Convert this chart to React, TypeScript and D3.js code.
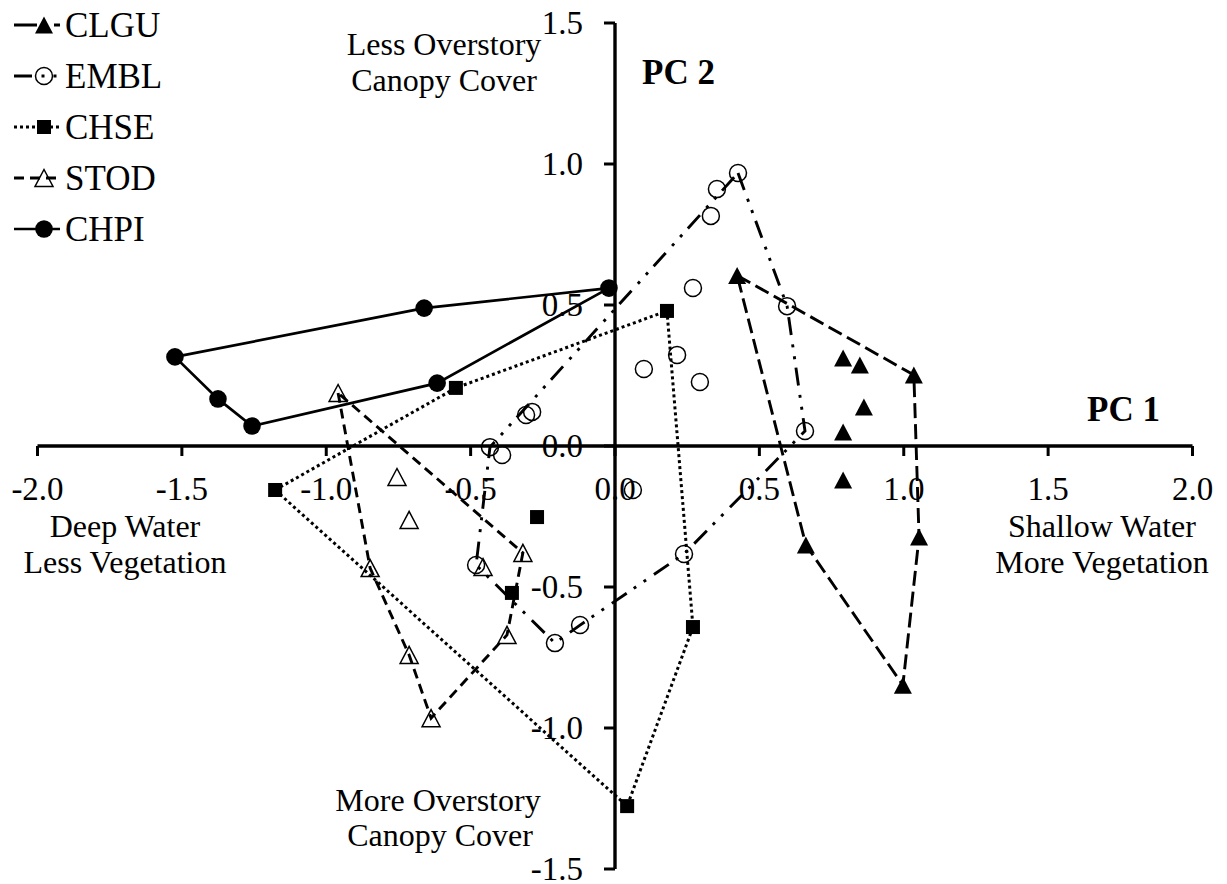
import React from "react";
import * as d3 from "d3";

type Pt = [number, number];

// Axis tick values
const xTickValues = [-2.0, -1.5, -1.0, -0.5, 0.0, 0.5, 1.0, 1.5, 2.0];
const yTickValues = [-1.5, -1.0, -0.5, 0.0, 0.5, 1.0, 1.5];

// Site scores per species: outline vertices (in drawing order) and the remaining sites
const clguHull: Pt[] = [[0.423, 0.605], [1.035, 0.252], [1.053, -0.323], [0.997, -0.848], [0.661, -0.351]];
const clguInner: Pt[] = [[0.790, 0.312], [0.848, 0.287], [0.862, 0.138], [0.790, 0.050], [0.790, -0.121]];

const emblHull: Pt[] = [[0.426, 0.968], [0.596, 0.496], [0.658, 0.053], [0.239, -0.383], [-0.121, -0.635], [-0.208, -0.699], [-0.481, -0.422], [-0.433, -0.004]];
const emblInner: Pt[] = [[0.353, 0.911], [0.332, 0.816], [0.270, 0.560], [0.215, 0.323], [0.100, 0.273], [0.294, 0.227], [-0.308, 0.110], [-0.287, 0.121], [-0.391, -0.032], [0.062, -0.156]];

const chseHull: Pt[] = [[-1.177, -0.156], [-0.551, 0.206], [0.180, 0.479], [0.270, -0.642], [0.042, -1.277]];
const chseInner: Pt[] = [[-0.270, -0.252], [-0.357, -0.521]];

const stodHull: Pt[] = [[-0.959, 0.188], [-0.848, -0.433], [-0.713, -0.741], [-0.637, -0.965], [-0.374, -0.670], [-0.319, -0.379]];
const stodInner: Pt[] = [[-0.755, -0.110], [-0.713, -0.262], [-0.457, -0.429]];

const chpiHull: Pt[] = [[-1.524, 0.316], [-0.661, 0.489], [-0.021, 0.560], [-0.616, 0.223], [-1.257, 0.071], [-1.375, 0.167]];
const chpiInner: Pt[] = [];

type MarkerKind = "triFilled" | "circleOpen" | "square" | "triOpen" | "circleFilled";

interface Species {
  name: string;
  hull: Pt[];
  inner: Pt[];
  marker: MarkerKind;
  dash: string;
  legendDash: string;
  width: number;
}

const species: Species[] = [
  { name: "CLGU", hull: clguHull, inner: clguInner, marker: "triFilled", dash: "15,6", legendDash: "23,17,10", width: 2.9 },
  { name: "EMBL", hull: emblHull, inner: emblInner, marker: "circleOpen", dash: "18,9.5,3,9,3,8.5", legendDash: "18,9.5,3,9,3,8.5", width: 2.9 },
  { name: "CHSE", hull: chseHull, inner: chseInner, marker: "square", dash: "3,3", legendDash: "3,3", width: 3 },
  { name: "STOD", hull: stodHull, inner: stodInner, marker: "triOpen", dash: "10,6", legendDash: "10,6", width: 2.9 },
  { name: "CHPI", hull: chpiHull, inner: chpiInner, marker: "circleFilled", dash: "", legendDash: "", width: 2.7 },
];

const W = 1227;
const H = 884;
const FONT = "'Liberation Serif', 'Times New Roman', serif";

const x = d3.scaleLinear().domain([-2, 2]).range([37.5, 1192.5]);
const y = d3.scaleLinear().domain([-1.5, 1.5]).range([869, 23]);

const fmt = d3
  .formatLocale({ decimal: ".", thousands: ",", grouping: [3], currency: ["", ""], minus: "-" })
  .format(".1f");

function Marker({ kind, cx, cy }: { kind: MarkerKind; cx: number; cy: number }) {
  switch (kind) {
    case "triFilled": {
      const w = 18, h = 17;
      return <path d={`M${cx},${cy - h / 2}L${cx + w / 2},${cy + h / 2}L${cx - w / 2},${cy + h / 2}Z`} fill="#000" />;
    }
    case "triOpen": {
      const w = 18, h = 17;
      return (
        <path
          d={`M${cx},${cy - h / 2}L${cx + w / 2},${cy + h / 2}L${cx - w / 2},${cy + h / 2}Z`}
          fill="none"
          stroke="#000"
          strokeWidth={1.5}
        />
      );
    }
    case "circleOpen":
      return <circle cx={cx} cy={cy} r={8.5} fill="none" stroke="#000" strokeWidth={1.5} />;
    case "circleFilled":
      return <circle cx={cx} cy={cy} r={8.8} fill="#000" />;
    case "square":
      return <rect x={cx - 7} y={cy - 7} width={14} height={14} fill="#000" />;
  }
}

export default function App() {
  const line = d3
    .line<Pt>()
    .x((d) => x(d[0]))
    .y((d) => y(d[1]))
    .curve(d3.curveLinearClosed);

  const x0 = x(0);
  const y0 = y(0);

  const legendTop = 25;
  const legendStep = 51;

  return (
    <svg
      width={W}
      height={H}
      viewBox={`0 0 ${W} ${H}`}
      style={{ position: "absolute", left: 0, top: 0, background: "#fff" }}
      fontFamily={FONT}
    >
      <rect x={0} y={0} width={W} height={H} fill="#fff" />

      {/* Axes crossing at the origin */}
      <g stroke="#000">
        <line x1={x(-2)} x2={x(2)} y1={y0} y2={y0} strokeWidth={3.4} />
        <line x1={x0} x2={x0} y1={y(1.5)} y2={y(-1.5)} strokeWidth={3.4} />
        {xTickValues.map((v) => (
          <line key={`xt${v}`} x1={x(v)} x2={x(v)} y1={y0} y2={y0 + 10} strokeWidth={3} />
        ))}
        {yTickValues.map((v) => (
          <line key={`yt${v}`} x1={x0 - 11} x2={x0} y1={y(v)} y2={y(v)} strokeWidth={3} />
        ))}
      </g>

      {/* Tick labels */}
      <g fontSize={33} fill="#000">
        {xTickValues.map((v) => (
          <text key={`xl${v}`} x={x(v)} y={500} textAnchor="middle">
            {fmt(v)}
          </text>
        ))}
        {yTickValues.map((v) => (
          <text key={`yl${v}`} x={583} y={y(v) + 11} textAnchor="end">
            {fmt(v)}
          </text>
        ))}
      </g>

      {/* Species outlines */}
      {species.map((s) => (
        <path
          key={`h${s.name}`}
          d={line(s.hull) ?? ""}
          fill="none"
          stroke="#000"
          strokeWidth={s.width}
          strokeDasharray={s.dash || undefined}
        />
      ))}

      {/* Site markers */}
      {species.map((s) => (
        <g key={`m${s.name}`}>
          {[...s.hull, ...s.inner].map((p, i) => (
            <Marker key={i} kind={s.marker} cx={x(p[0])} cy={y(p[1])} />
          ))}
        </g>
      ))}

      {/* Axis titles */}
      <g fontSize={35} fontWeight="bold" fill="#000">
        <text x={642} y={84}>PC 2</text>
        <text x={1087} y={421}>PC 1</text>
      </g>

      {/* Gradient descriptions */}
      <g fontSize={32} fill="#000" textAnchor="middle">
        <text x={444} y={55}>Less Overstory</text>
        <text x={444} y={91}>Canopy Cover</text>
        <text x={438} y={811}>More Overstory</text>
        <text x={440} y={846}>Canopy Cover</text>
        <text x={125} y={537}>Deep Water</text>
        <text x={125} y={573}>Less Vegetation</text>
        <text x={1102} y={537}>Shallow Water</text>
        <text x={1102} y={573}>More Vegetation</text>
      </g>

      {/* Legend */}
      {species.map((s, i) => {
        const cy = legendTop + i * legendStep;
        return (
          <g key={`lg${s.name}`}>
            <line
              x1={14}
              x2={60}
              y1={cy}
              y2={cy}
              stroke="#000"
              strokeWidth={s.width}
              strokeDasharray={s.legendDash || undefined}
            />
            <Marker kind={s.marker} cx={44} cy={cy} />
            <text x={65} y={cy + 12} fontSize={35} fill="#000">
              {s.name}
            </text>
          </g>
        );
      })}
    </svg>
  );
}
